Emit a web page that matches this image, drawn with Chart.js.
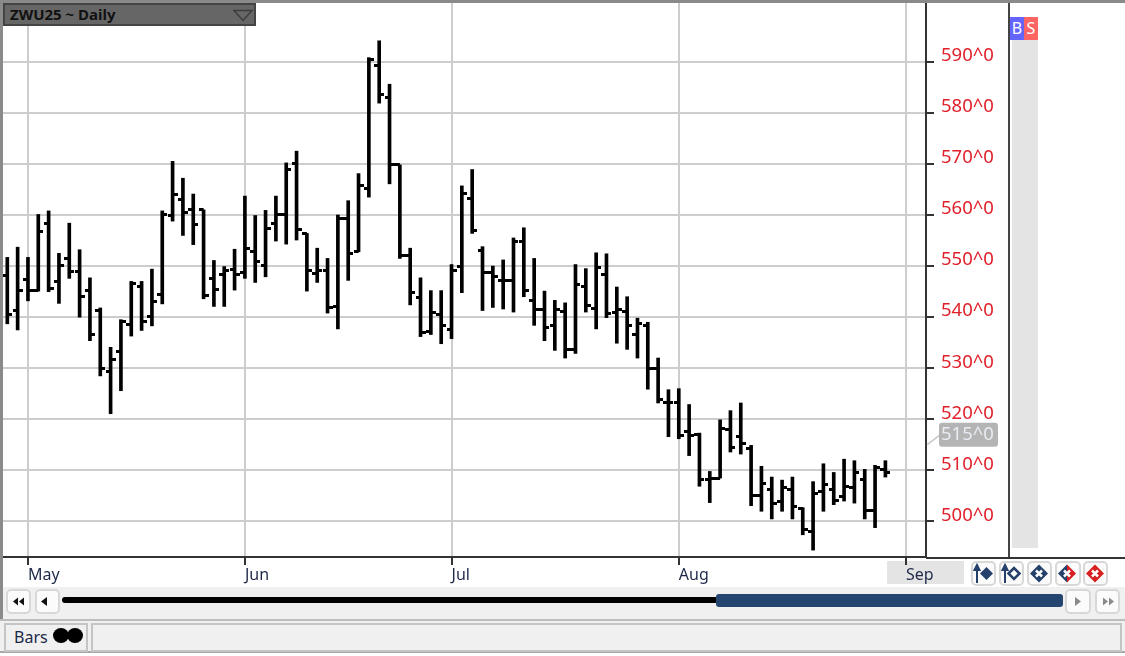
<!DOCTYPE html>
<html>
<head>
<meta charset="utf-8">
<title>ZWU25 ~ Daily</title>
<script src="https://cdn.jsdelivr.net/npm/chart.js@4"></script>
<style>
  html, body { margin: 0; padding: 0; background: #fff; overflow: hidden; }
  #page { position: relative; width: 1125px; height: 656px; font-family: "Noto Sans", sans-serif; }
  #page div, #page svg { position: absolute; box-sizing: border-box; }
  canvas { position: absolute; left: 0; top: 0; z-index: 2; }
  .over { z-index: 3; }
  .btn { background: #fbfbfb; border: 2px solid #d8d8d8; border-radius: 5px; }
</style>
</head>
<body>
<div id="page">
  <!-- window furniture under the canvas -->
  <div style="left:887px;top:561px;width:77px;height:23px;background:#e4e4e4"></div>
  <div style="left:1012px;top:40px;width:26px;height:508px;background:#e4e4e4"></div>
  <div style="left:0;top:587px;width:1125px;height:32px;background:#f0f0f0"></div>
  <div style="left:0;top:619px;width:1125px;height:34px;background:#f0f0f0;border-top:2px solid #bdbdbd;border-bottom:2px solid #a8a8a8"></div>

  <!-- frame -->
  <div class="over" style="left:0;top:0;width:1125px;height:3px;background:#8a8a8a"></div>
  <div class="over" style="left:0;top:0;width:3px;height:619px;background:#8a8a8a"></div>
  <div class="over" style="left:926px;top:557px;width:199px;height:2px;background:#333"></div>
  <div class="over" style="left:1008px;top:3px;width:2px;height:554px;background:#444"></div>

  <!-- title bar -->
  <div class="over" style="left:3px;top:3px;width:253px;height:23px;background:#666;border:2px solid #444;color:#111;font:bold 15px/19px 'Noto Sans',sans-serif;padding-left:5px">ZWU25 ~ Daily</div>
  <svg class="over" style="left:232px;top:9px" width="22" height="13"><path d="M2 1.5H20L11 11.5Z" fill="none" stroke="#3c3c3c" stroke-width="1.5"/></svg>

  <!-- buy / sell -->
  <div class="over" style="left:1010px;top:17px;width:14px;height:23px;background:#6464ff;color:#fff;font-size:16px;line-height:23px;text-align:center">B</div>
  <div class="over" style="left:1024px;top:17px;width:14px;height:23px;background:#ff6464;color:#fff;font-size:16px;line-height:23px;text-align:center">S</div>

  <!-- order buttons -->
  <div class="btn" style="left:971px;top:561px;width:25px;height:25px"></div>
  <div class="btn" style="left:999px;top:561px;width:25px;height:25px"></div>
  <div class="btn" style="left:1027px;top:561px;width:25px;height:25px"></div>
  <div class="btn" style="left:1055px;top:561px;width:26px;height:25px"></div>
  <div class="btn" style="left:1083px;top:561px;width:25px;height:25px"></div>
  <svg class="over" style="left:971px;top:561px" width="140" height="25">
    <path d="M6 22V7M3.5 9L6 4L8.500 9Z" stroke="#25406b" stroke-width="2" fill="#25406b"/>
    <path d="M9 12.5L15.500 6L22 12.5L15.500 19Z" fill="#25406b"/>
    <path d="M34 22V7M31.5 9L34 4L36.500 9Z" stroke="#25406b" stroke-width="2" fill="#25406b"/>
    <path d="M37.500 12.5L43 7L48.500 12.5L43 18Z" fill="#fff" stroke="#25406b" stroke-width="2.500"/>
    <path d="M59 12.5L68 3.500L77 12.5L68 21.500Z" fill="#25406b"/>
    <path d="M87 12.5L96 3.500V21.500Z" fill="#25406b"/>
    <path d="M96 3.500L105 12.5L96 21.500Z" fill="#d81e1e"/>
    <path d="M115 12.5L124 3.500L133 12.5L124 21.500Z" fill="#d81e1e"/>
    <path d="M65 9.500L71 15.500M71 9.500L65 15.500M93 9.500L99 15.500M99 9.500L93 15.500M121 9.500L127 15.500M127 9.500L121 15.500" stroke="#fff" stroke-width="2.500"/>
  </svg>

  <!-- scroll bar -->
  <div class="btn" style="left:6px;top:589px;width:25px;height:25px"></div>
  <div class="btn" style="left:35px;top:589px;width:25px;height:25px"></div>
  <div class="btn" style="left:1065px;top:589px;width:26px;height:25px"></div>
  <div class="btn" style="left:1095px;top:589px;width:25px;height:25px"></div>
  <svg class="over" style="left:6px;top:589px" width="60" height="25">
    <path d="M12 8.500L7 12.500L12 16.500ZM18 8.500L13 12.500L18 16.500Z" fill="#111"/>
    <path d="M41 8L35 12.500L41 17Z" fill="#111"/>
  </svg>
  <svg class="over" style="left:1065px;top:589px" width="55" height="25">
    <path d="M10 8L16 12.500L10 17Z" fill="#8a8a8a"/>
    <path d="M38 8.500L43 12.500L38 16.500ZM44 8.500L49 12.500L44 16.500Z" fill="#8a8a8a"/>
  </svg>
  <div style="left:62px;top:597px;width:656px;height:6px;background:#000;border-radius:3px"></div>
  <div style="left:716px;top:594px;width:347px;height:13px;background:#23456f;border-radius:3px"></div>

  <!-- status bar -->
  <div style="left:4px;top:623px;width:84px;height:29px;background:#f0f0f0;border:2px solid #c4c4c4;color:#1b2a48;font-size:16px;line-height:25px;padding-left:8px">Bars</div>
  <div style="left:53px;top:628px;width:16px;height:15px;background:#000;border-radius:50%"></div>
  <div style="left:67px;top:628px;width:16px;height:15px;background:#000;border-radius:50%"></div>
  <div style="left:91px;top:623px;width:1031px;height:29px;background:#f0f0f0;border:2px solid #c4c4c4"></div>

  <canvas id="grafico" width="1125" height="656"></canvas>
</div>

<script>
const opens = [
  548.1,541.4,547.3,545.2,558.4,547,551.5,549,545.2,541.4,
  529.3,533.3,538.5,546,540.1,544.5,559.9,563,561,561,
  547.5,548.3,549.3,548.8,552.8,550.2,558.3,560,570,556.4,
  548.5,549.1,542.1,559.3,552.8,565.1,589.3,583,569.8,552,
  543.9,537.2,540.5,537.5,549.9,563.2,553,548.7,547.2,547.2,
  554.9,543.2,541.5,538.4,541.2,533.6,546.1,541.7,548.4,540.9,
  541.2,536.6,538.3,530,523.3,523.2,517.6,517,508.3,508.5,
  518.1,516.6,514.3,505.1,506.2,504,506.3,502.5,498.1,505.9,
  506.3,504.9,506.6,508.3,502.1,510.2
]
const highs = [
  551.7,553.7,551.7,560.1,560.8,552.5,558.4,553.2,547.7,541.8,
  534.1,539.5,547,547,549.4,560.8,570.5,567.2,564.1,561,
  551.1,549.9,553.3,563.7,559.9,560.9,563.7,570.2,572.5,556.4,
  553.5,551.5,560,562.8,568.1,590.8,594.1,585.6,569.8,553.5,
  547.7,545.2,545.2,550.3,565.7,568.9,553.8,550,551.2,555.5,
  557.5,551.5,545.1,543.3,542.8,550.3,549.5,552.6,552.4,545.9,
  544,539.8,539,532,525.8,526,522.9,517.3,509.8,519.9,
  521.7,523.2,514.9,510.8,508.7,508.1,508.7,502.7,507.8,511.3,
  509.6,512.2,511.9,510.2,511,511.9
]
const lows = [
  538.7,537.5,543.2,545.1,545,542.7,547.6,540,535.4,528.5,
  521.1,525.6,536.3,537.4,538.3,542.6,558.8,556,554.2,543.6,
  542.1,542.1,545.3,547.6,546.8,547.9,554.9,554.3,555.1,545.1,
  546.8,540.8,537.7,547.2,552.8,563.5,581.9,566.1,551.5,542.4,
  536.2,536.6,534.8,535.8,544.8,556.4,541.3,541.9,541.6,541,
  544,538.4,535.4,533.5,532,532.9,541,537.7,539.9,534.9,
  533.7,532,525.9,523.2,516.6,516.2,512.9,506.9,503.7,508.5,
  513.6,513.2,503.1,502,500.5,502,500.5,497.4,494.4,502,
  503.3,504,503.6,500.5,498.8,508.7
]
const closes = [
  540.5,545.2,545.2,556.7,545.7,550.1,549,544,536.6,529.9,
  531.8,539.1,546.6,539.1,543.1,560,564,560.4,558.2,544.2,
  545.5,549.1,548.4,553.4,550.9,557.4,560,568.9,557.2,549.2,
  549.1,541.9,559.3,552.5,565.7,590.4,583.6,569.8,552.1,544.8,
  537,541,538.4,549.1,564.2,556.9,548.7,547.9,547.2,554.9,
  545.3,541.5,537.9,541.5,533.6,546.4,542.3,549.7,540.7,541.5,
  538.3,538.7,529.9,523.8,523.3,516.8,516.8,508.3,508.5,518.3,
  514.5,515.2,505.1,507.4,503.6,506.7,502.9,498.4,505.5,507.2,
  504.2,506.8,509.6,502.1,510.5,509.6
]

const monthLabels = ['May', 'Jun', 'Jul', 'Aug', 'Sep']
const monthBars = [2, 23, 43, 65, 87]
const priceTicks = [500, 510, 520, 530, 540, 550, 560, 570, 580, 590]
const markerPrice = 515

// small horizontal dash, left half for the open and right half for the close
function geraTraco(lado) {
    const c = document.createElement('canvas')
    c.width = 10
    c.height = 3
    const ctx = c.getContext('2d')
    ctx.fillStyle = '#000'
    ctx.fillRect(lado === 'open' ? 0 : 5, 0, 5, 3)
    return c
}

const stems = highs.map((h, i) => ({ x: i, y: [lows[i], h] }))
const openPts = opens.map((v, i) => ({ x: i, y: v }))
const closePts = closes.map((v, i) => ({ x: i, y: v }))

// grey flag with the last price, hung on the price axis
const marcadorPreco = {
    id: 'marcadorPreco',
    afterDraw(chart) {
        const ctx = chart.ctx
        const eixo = chart.scales.y
        const y = eixo.getPixelForValue(markerPrice)
        ctx.save()
        ctx.strokeStyle = '#c8c8c8'
        ctx.lineWidth = 1.5
        ctx.beginPath()
        ctx.moveTo(eixo.left + 1, y)
        ctx.lineTo(eixo.left + 14, y - 10)
        ctx.stroke()
        ctx.fillStyle = '#b4b4b4'
        ctx.beginPath()
        ctx.roundRect(eixo.left + 13, y - 22, 59, 24, 3)
        ctx.fill()
        ctx.fillStyle = '#e6ecf2'
        ctx.font = '18.5px "Noto Sans"'
        ctx.textBaseline = 'middle'
        ctx.fillText(markerPrice + '^0', eixo.left + 15, y - 10)
        ctx.restore()
    }
}

new Chart(document.querySelector('#grafico'), {
    data: {
        datasets: [
            { type: 'bar', data: stems, backgroundColor: '#000', barThickness: 3, borderWidth: 0 },
            { type: 'line', data: openPts, showLine: false, pointStyle: geraTraco('open'), pointRadius: 3 },
            { type: 'line', data: closePts, showLine: false, pointStyle: geraTraco('close'), pointRadius: 3 }
        ]
    },
    plugins: [marcadorPreco],
    options: {
        responsive: false,
        animation: false,
        layout: { autoPadding: false, padding: { left: 3, top: 3, right: 0, bottom: 0 } },
        plugins: { legend: { display: false }, tooltip: { enabled: false } },
        scales: {
            x: {
                type: 'linear',
                offset: false,
                min: -0.416,
                max: 88.93,
                afterBuildTicks: s => { s.ticks = monthBars.map(v => ({ value: v })) },
                afterFit: s => { s.height = 99; s.paddingLeft = 0; s.paddingRight = 0 },
                grid: { color: '#cdcdcd', lineWidth: 2, tickColor: '#333', tickLength: 8, offset: false },
                border: { color: '#333', width: 2 },
                ticks: {
                    autoSkip: false,
                    maxRotation: 0,
                    align: 'start',
                    padding: 1,
                    color: '#1f2a48',
                    font: { family: 'Noto Sans', size: 16 },
                    callback: v => monthLabels[monthBars.indexOf(v)]
                }
            },
            y: {
                position: 'right',
                min: 493.05,
                max: 601.5,
                afterBuildTicks: s => { s.ticks = priceTicks.map(v => ({ value: v })) },
                afterFit: s => { s.width = 199; s.paddingTop = 0; s.paddingBottom = 0 },
                grid: { color: '#cdcdcd', lineWidth: 2, tickColor: '#333', tickLength: 8 },
                border: { color: '#333', width: 2 },
                ticks: {
                    padding: 7,
                    labelOffset: -6,
                    color: '#e0202a',
                    font: { family: 'Noto Sans', size: 18.5 },
                    callback: v => v + '^0'
                }
            }
        }
    }
})
</script>
</body>
</html>
